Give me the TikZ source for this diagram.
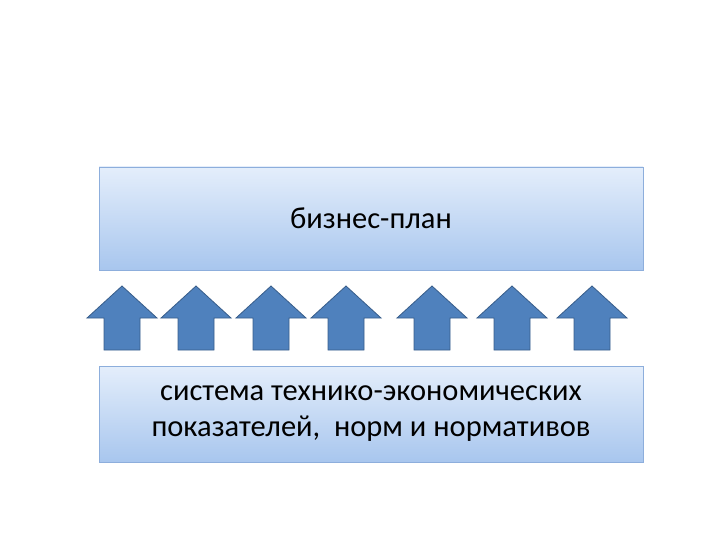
\documentclass[tikz,border=0pt]{standalone}
\usepackage{fontspec}
\setmainfont{Carlito}
\definecolor{boxtop}{HTML}{E4EEFB}
\definecolor{boxbot}{HTML}{A8C6EE}
\definecolor{boxline}{HTML}{8DAEDC}
\definecolor{arfill}{HTML}{4F81BD}
\definecolor{arline}{HTML}{385D8A}
\newcommand{\bigtext}{\fontsize{30.5}{36}\selectfont}
\begin{document}
\begin{tikzpicture}[x=1pt,y=-1pt,
  panel/.style={draw=boxline,line width=0.8pt,top color=boxtop,bottom color=boxbot,align=center,font=\bigtext,inner sep=0pt},
  uparrow/.style={fill=arfill,draw=arline,line width=0.8pt}]
\useasboundingbox (0,0) rectangle (720,540);
\node[panel,minimum width=544pt,minimum height=103pt] (plan) at (371,218.5) {\bigtext бизнес-план};
\node[panel,minimum width=544pt,minimum height=96pt] (sys) at (371,414) {\bigtext система технико-экономических\\\bigtext показателей,\ \ норм и нормативов};
\foreach \c/\n in {122/a1,196/a2,271/a3,346/a4,432/a5,512/a6,592/a7}{
  \draw[uparrow] (\c,286) -- (\c+35,318) -- (\c+18,318) -- (\c+18,350) -- (\c-18,350) -- (\c-18,318) -- (\c-35,318) -- cycle;
}
\end{tikzpicture}
\end{document}
